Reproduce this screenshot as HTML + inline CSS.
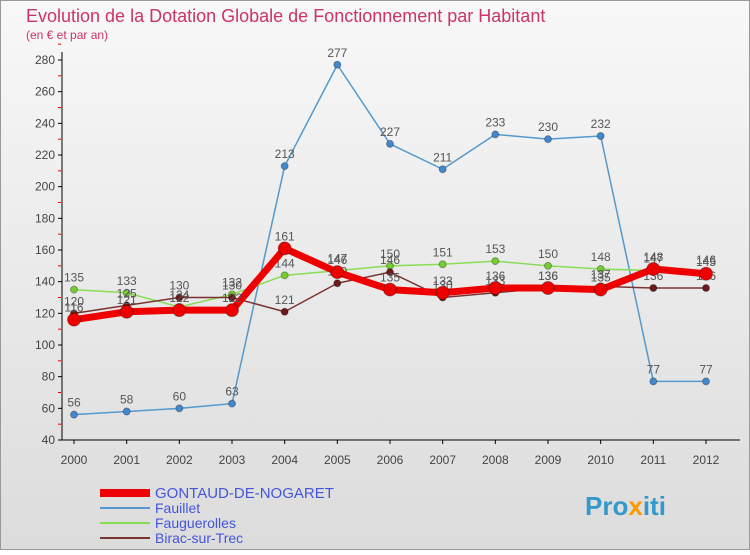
<!DOCTYPE html>
<html><head><meta charset="utf-8"><style>
body{margin:0;width:750px;height:550px;overflow:hidden;font-family:"Liberation Sans",sans-serif;}
</style></head><body>
<svg width="750" height="550" xmlns="http://www.w3.org/2000/svg">
<defs><linearGradient id="bg" x1="0" y1="0" x2="0" y2="1"><stop offset="0" stop-color="#f8f8f8"/><stop offset="1" stop-color="#dcdcdc"/></linearGradient></defs>
<rect x="0.5" y="0.5" width="749" height="549" fill="url(#bg)" stroke="#999"/>
<text x="26" y="22" font-size="18" fill="#cc3366">Evolution de la Dotation Globale de Fonctionnement par Habitant</text>
<text x="26" y="39" font-size="12" fill="#cc3366">(en € et par an)</text>
<g id="axes"></g><g id="series"></g><g id="legend"></g>
<text x="585" y="515" font-size="26" font-weight="bold" fill="#3399cc">Pro<tspan fill="#ff9900">x</tspan>iti</text>
</svg>
<script>
const years=["2000","2001","2002","2003","2004","2005","2006","2007","2008","2009","2010","2011","2012"];
const yTicks=[40,60,80,100,120,140,160,180,200,220,240,260,280];
const gontaud=[116,121,122,122,161,146,135,133,136,136,135,148,145];
const fauillet=[56,58,60,63,213,277,227,211,233,230,232,77,77];
const faugerolles=[135,133,124,132,144,147,150,151,153,150,148,147,146];
const birac=[120,125,130,130,121,139,146,130,133,136,137,136,136];
const NS="http://www.w3.org/2000/svg";
const X=i=>74+i*(706-74)/12;
const Y=v=>440-(v-40)*380/240;
function mk(t,a,p){const e=document.createElementNS(NS,t);for(const k in a)e.setAttribute(k,a[k]);p.appendChild(e);return e;}
const ax=document.getElementById('axes');
const yl=mk('line',{x1:62,y1:52,x2:62,y2:440,stroke:'#000'},ax);


const xl=mk('line',{x1:62,y1:440,x2:740,y2:440,stroke:'#000'},ax);


yTicks.forEach(v=>{
 mk('line',{x1:58,y1:Y(v),x2:62,y2:Y(v),stroke:'#000'},ax);
 mk('line',{x1:58,y1:Y(v+10),x2:61,y2:Y(v+10),stroke:'#e00'},ax);
 const t=mk('text',{x:55,y:Y(v)+4,'font-size':12,'text-anchor':'end',fill:'#444'},ax);t.textContent=v;
 
 
});
years.forEach((y,i)=>{
 mk('line',{x1:X(i),y1:440,x2:X(i),y2:444,stroke:'#000'},ax);
 const t=mk('text',{x:X(i),y:464,'font-size':12,'text-anchor':'middle',fill:'#444'},ax);t.textContent=y;
 
 
});
const sg=document.getElementById('series');
const series=[
 {name:'fauillet',d:fauillet,c:'#5599cc',w:1.5,r:3.5,dot:'#4488cc'},
 {name:'faugerolles',d:faugerolles,c:'#88dd55',w:1.5,r:3.5,dot:'#77cc33'},
 {name:'birac',d:birac,c:'#7a3333',w:1.5,r:3.5,dot:'#6b1a1a'},
 {name:'gontaud',d:gontaud,c:'#ee0000',w:7,r:6.5,dot:'#ee0000'}];
series.forEach(s=>{
 const g=mk('g',{},sg);
 
 
 const pl=mk('polyline',{points:s.d.map((v,i)=>X(i)+','+Y(v)).join(' '),fill:'none',stroke:s.c,'stroke-width':s.w,'stroke-linejoin':'round'},g);
 
 
 s.d.forEach((v,i)=>{
  const c=mk('circle',{cx:X(i),cy:Y(v),r:s.r,fill:s.dot,stroke:'rgba(0,0,0,0.3)'},g);
  
  
  const t=mk('text',{x:X(i),y:Y(v)-8,'font-size':12,'text-anchor':'middle',fill:'#555'},g);t.textContent=v;
  
  
 });
});
const lg=document.getElementById('legend');
const items=[['GONTAUD-DE-NOGARET','#ee0000',8],['Fauillet','#5599cc',2],['Fauguerolles','#88dd55',2],['Birac-sur-Trec','#7a3333',2]];
items.forEach((it,i)=>{
 const y=493+i*15;
 const g=mk('g',{},lg);
 
 
 mk('line',{x1:100,y1:y,x2:150,y2:y,stroke:it[1],'stroke-width':it[2]},g);
 const t=mk('text',{x:155,y:y+5,'font-size':i==0?15:14,fill:'#4455dd'},g);t.textContent=it[0];
});
</script>
</body></html>
